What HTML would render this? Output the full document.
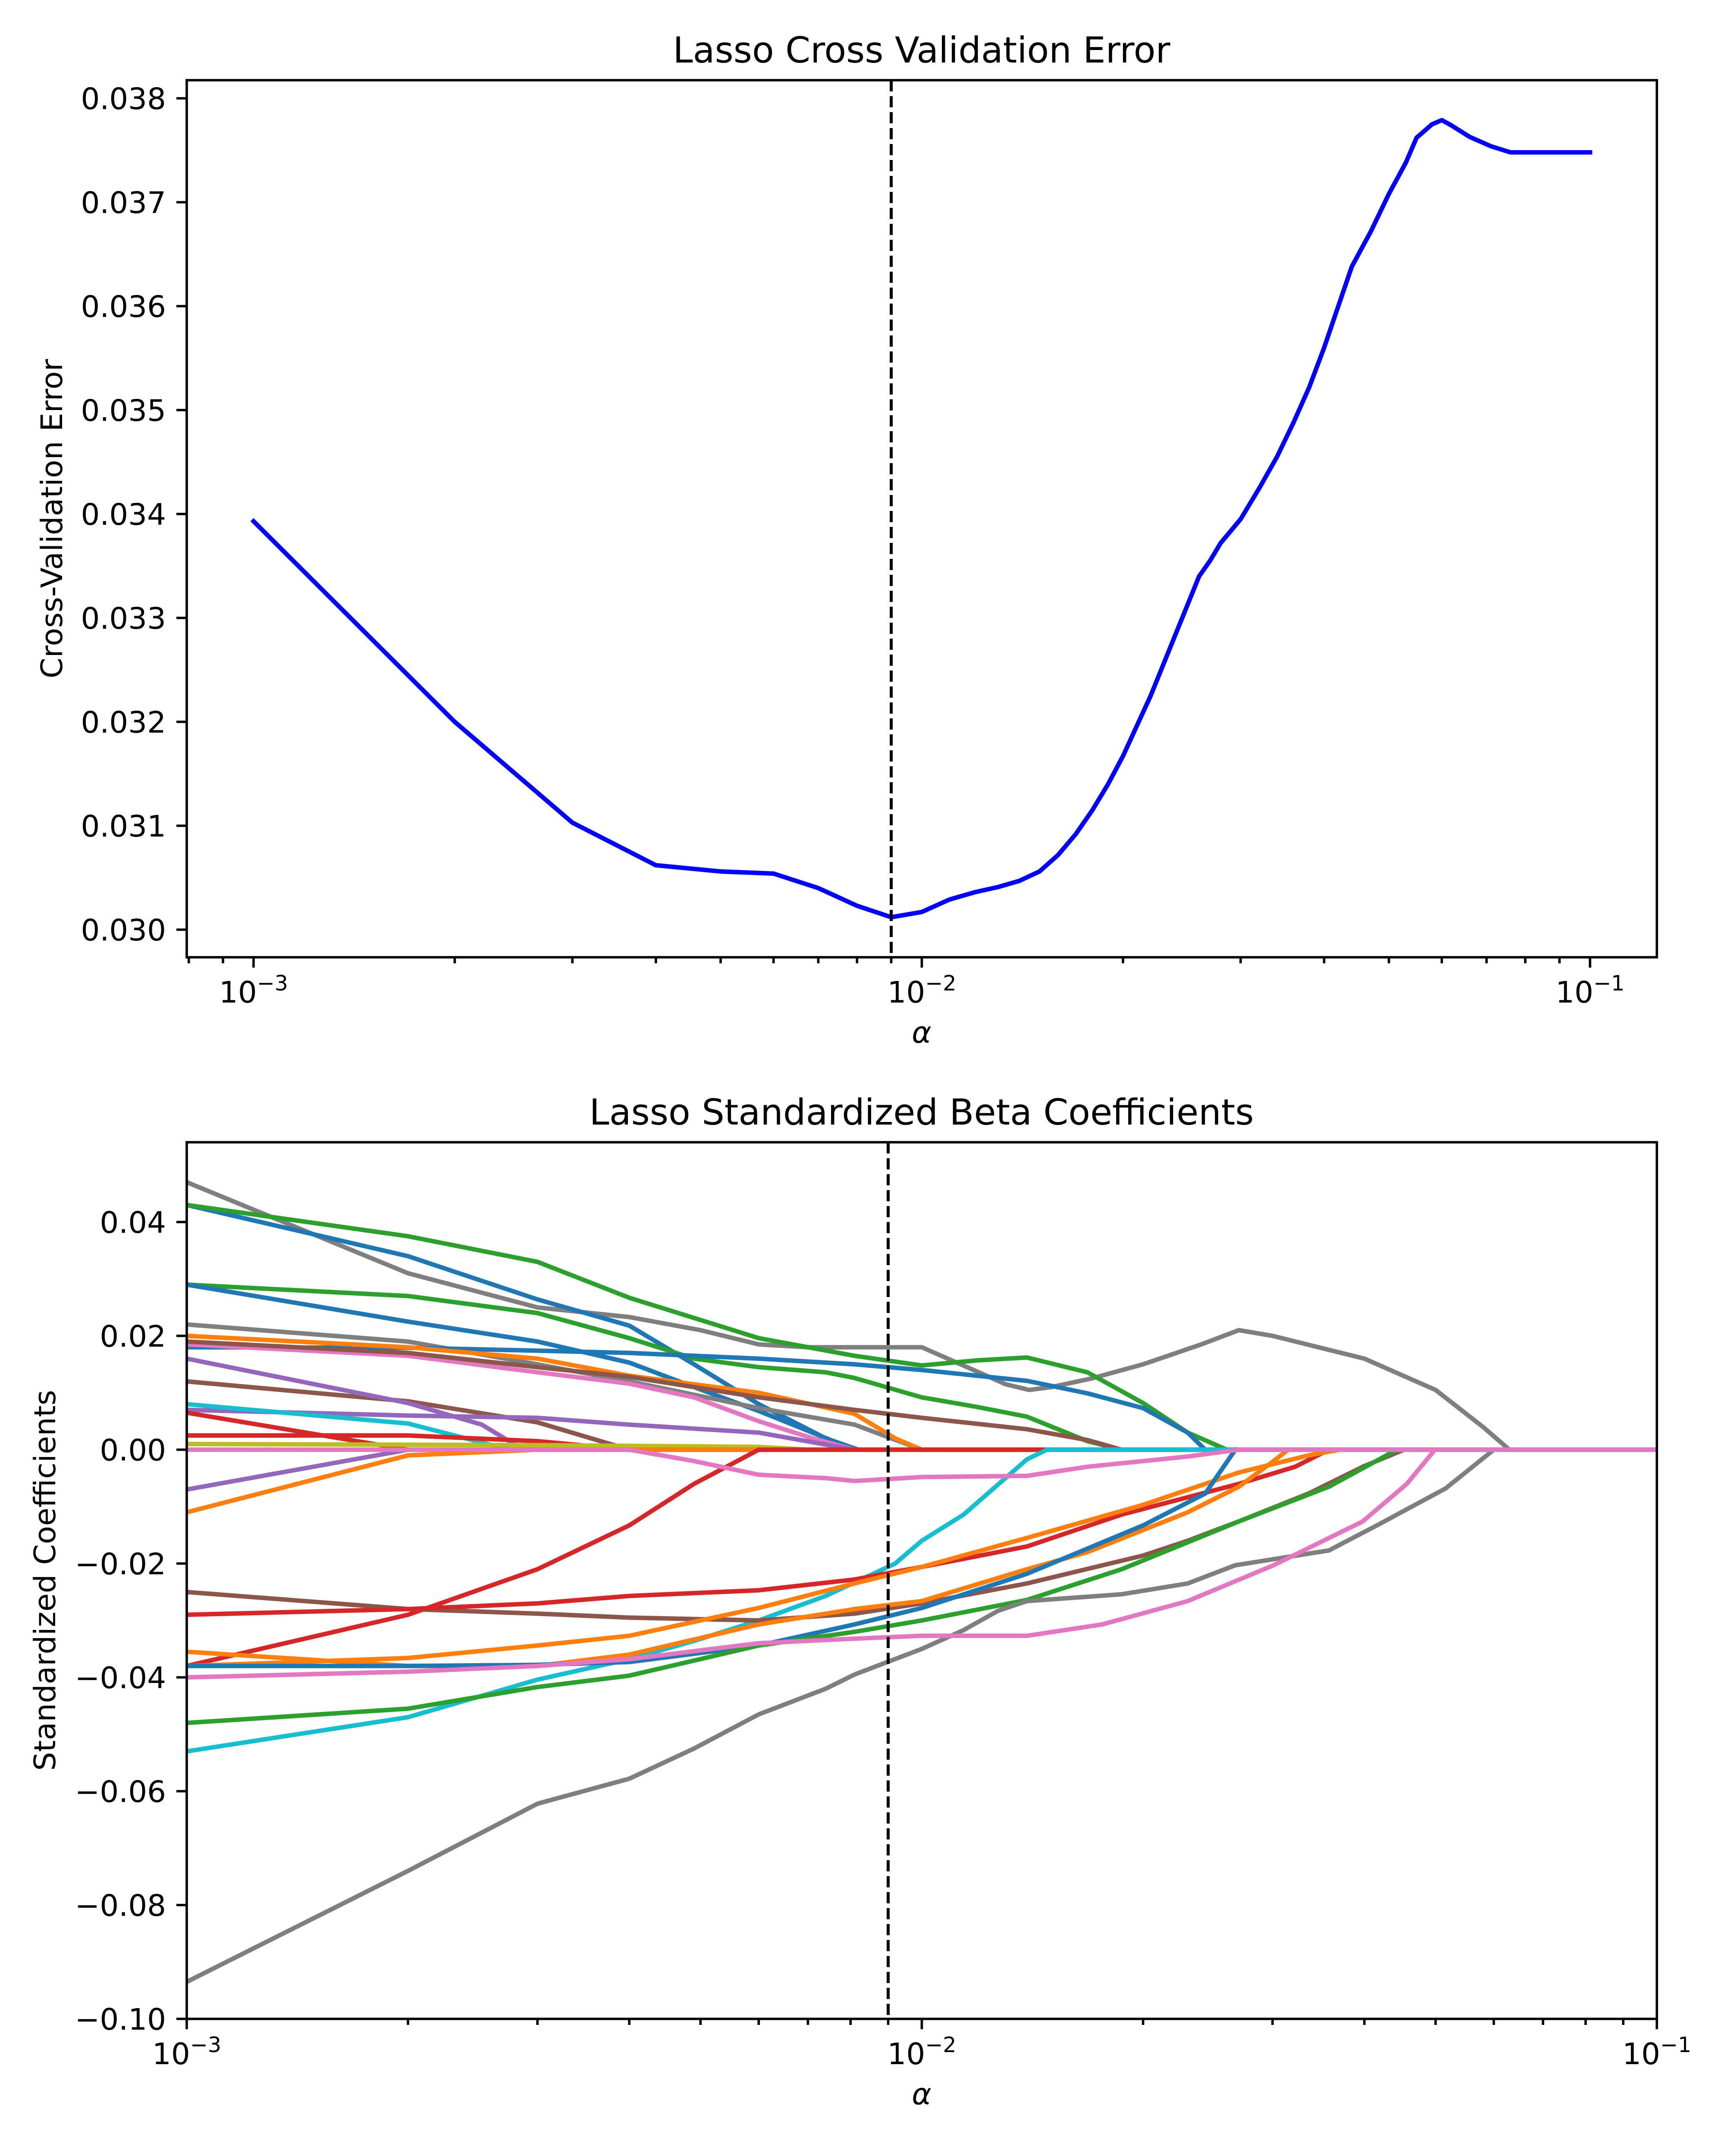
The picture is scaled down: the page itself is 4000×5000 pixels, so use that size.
<!DOCTYPE html>
<html><head><meta charset="utf-8"><style>
html,body{margin:0;padding:0;background:#fff;width:4000px;height:5000px;overflow:hidden;}
svg{display:block;}
svg text{font-family:"DejaVu Sans","Liberation Sans",sans-serif;fill:#000;}
</style></head><body>
<svg id="fig" xmlns="http://www.w3.org/2000/svg" width="4000" height="5000" viewBox="0 0 4000 5000">
<rect width="4000" height="5000" fill="#fff"/>
<defs>
<clipPath id="clipTop"><rect x="433" y="186" width="3409" height="2034"/></clipPath>
<clipPath id="clipBot"><rect x="433" y="2649" width="3409" height="2033"/></clipPath>
</defs>
<g id="top"></g>
<g id="bot"></g>
</svg>
<script>
// ---- Top chart data ----
const cvAlpha = [0.001,0.002,0.003,0.004,0.005,0.006,0.007,0.008,0.009,0.010,0.011,0.012,0.013,0.014,0.015,0.016,0.017,0.018,0.019,0.020,0.022,0.024,0.026,0.027,0.028,0.030,0.032,0.034,0.036,0.038,0.040,0.042,0.044,0.047,0.050,0.053,0.055,0.058,0.060,0.062,0.066,0.071,0.076,0.080,0.1];
const cvError = [0.03393,0.03200,0.03103,0.03062,0.03056,0.03054,0.03040,0.03023,0.03012,0.03017,0.03029,0.03036,0.03041,0.03047,0.03056,0.03072,0.03092,0.03115,0.03140,0.03167,0.03225,0.03285,0.03340,0.03355,0.03372,0.03395,0.03425,0.03455,0.03488,0.03522,0.03560,0.03600,0.03638,0.03672,0.03708,0.03738,0.03762,0.03775,0.03779,0.03774,0.03763,0.03754,0.03748,0.03748,0.03748];
const topYTicks = [0.030,0.031,0.032,0.033,0.034,0.035,0.036,0.037,0.038];
const topYLabels = ["0.030","0.031","0.032","0.033","0.034","0.035","0.036","0.037","0.038"];
const bestAlpha = 0.009;

// ---- Bottom chart data (each series: alphas + coefficients) ----
const botYTicks = [0.04,0.02,0.00,-0.02,-0.04,-0.06,-0.08,-0.10];
const botYLabels = ["0.04","0.02","0.00","\u22120.02","\u22120.04","\u22120.06","\u22120.08","\u22120.10"];
const xTickExp = [-3,-2,-1];
const xTickLabels = ["\u22123","\u22122","\u22121"];

const s1x=[0.001,0.002,0.003,0.004,0.005,0.006,0.007,0.008,0.009,0.010,0.012,0.013,0.014,0.015,0.017,0.020,0.024,0.027,0.030,0.040,0.050,0.058,0.063];
const s1y=[0.047,0.031,0.025,0.0233,0.021,0.0185,0.018,0.018,0.018,0.018,0.0135,0.0115,0.0105,0.011,0.0125,0.015,0.0185,0.021,0.020,0.016,0.0105,0.004,0];
const s2x=[0.001,0.002,0.003,0.004,0.0049,0.006,0.0074,0.0082];
const s2y=[0.043,0.034,0.0264,0.0218,0.015,0.008,0.002,0];
const s3x=[0.001,0.002,0.003,0.004,0.006,0.0081,0.010,0.0119,0.0139,0.0168,0.020,0.023,0.026];
const s3y=[0.043,0.0375,0.033,0.0267,0.0196,0.0165,0.0148,0.0157,0.0162,0.0136,0.0082,0.003,0];
const s4x=[0.001,0.002,0.003,0.004,0.0049,0.006,0.0074,0.0081,0.010,0.0119,0.0139,0.0168,0.0187];
const s4y=[0.029,0.027,0.024,0.0196,0.016,0.0145,0.0136,0.0126,0.0092,0.0075,0.0058,0.0015,0];
const s5x=[0.001,0.002,0.003,0.004,0.0049,0.006,0.0071,0.0081];
const s5y=[0.029,0.0225,0.019,0.0153,0.011,0.0068,0.003,0];
const s6x=[0.001,0.002,0.003,0.004,0.006,0.0081,0.010];
const s6y=[0.022,0.019,0.015,0.012,0.0073,0.0044,0];
const s7x=[0.001,0.002,0.003,0.004,0.006,0.0081,0.010,0.0139,0.0168,0.020,0.023,0.0243];
const s7y=[0.018,0.0179,0.0174,0.017,0.016,0.015,0.014,0.0121,0.0099,0.0073,0.003,0];
const s8x=[0.001,0.002,0.003,0.004,0.006,0.0081,0.0092,0.010];
const s8y=[0.020,0.018,0.016,0.013,0.010,0.0063,0.002,0];
const s9x=[0.001,0.002,0.003,0.004,0.0049,0.006,0.0071,0.0081];
const s9y=[0.0185,0.0165,0.0136,0.0116,0.0092,0.005,0.002,0];
const s10x=[0.001,0.002,0.003,0.004];
const s10y=[0.012,0.0085,0.0048,0];
const s11x=[0.001,0.002,0.003,0.004,0.006,0.0081,0.010,0.0139,0.0168,0.0187];
const s11y=[0.019,0.017,0.0145,0.0128,0.0092,0.007,0.0056,0.0036,0.0017,0];
const s12x=[0.001,0.002,0.00252,0.00287];
const s12y=[0.016,0.0082,0.0044,0];
const s13x=[0.001,0.002,0.003,0.004,0.006,0.0081];
const s13y=[0.007,0.006,0.0056,0.0044,0.003,0];
const s14x=[0.001,0.002,0.00275];
const s14y=[0.008,0.0046,0];
const s15x=[0.001,0.002];
const s15y=[0.0065,0];
const s16x=[0.001,0.002,0.003,0.004];
const s16y=[0.0025,0.0025,0.0015,0];
const s17x=[0.001,0.003,0.006,0.007];
const s17y=[0.001,0.0008,0.0005,0];
const s18x=[0.001,0.002];
const s18y=[-0.007,0];
const s19x=[0.001,0.002,0.003];
const s19y=[-0.011,-0.001,0];
const s21x=[0.001,0.002,0.003,0.004,0.0049,0.006];
const s21y=[-0.038,-0.029,-0.021,-0.0133,-0.006,0];
const s22x=[0.001,0.002,0.003,0.004,0.0049,0.006,0.0074,0.0092,0.010,0.0114,0.0139,0.0148];
const s22y=[-0.053,-0.047,-0.0404,-0.0368,-0.0336,-0.030,-0.0257,-0.020,-0.016,-0.0114,-0.0017,0];
const s23x=[0.001,0.002,0.003,0.004,0.006,0.0081,0.010,0.0139,0.020,0.023,0.027,0.0336,0.0398,0.0453];
const s23y=[-0.025,-0.028,-0.0288,-0.0295,-0.030,-0.0288,-0.027,-0.0235,-0.0186,-0.016,-0.0126,-0.0077,-0.003,0];
const s24x=[0.001,0.002,0.003,0.004,0.006,0.0081,0.010,0.0139,0.0187,0.027,0.0322,0.0358];
const s24y=[-0.029,-0.028,-0.027,-0.0257,-0.0247,-0.0228,-0.0206,-0.017,-0.0114,-0.006,-0.003,0];
const s25x=[0.001,0.002,0.003,0.004,0.006,0.0081,0.010,0.0139,0.0168,0.023,0.027,0.0301,0.0315];
const s25y=[-0.0355,-0.038,-0.038,-0.036,-0.0307,-0.028,-0.0266,-0.021,-0.018,-0.011,-0.0065,-0.002,0];
const s26x=[0.001,0.002,0.003,0.004,0.006,0.0081,0.010,0.0139,0.020,0.027,0.0336,0.037];
const s26y=[-0.038,-0.0366,-0.0344,-0.0327,-0.0278,-0.0235,-0.0206,-0.0155,-0.0097,-0.004,-0.001,0];
const s27x=[0.001,0.002,0.003,0.004,0.006,0.0081,0.010,0.0139,0.020,0.0243,0.0267];
const s27y=[-0.038,-0.038,-0.0378,-0.0373,-0.0344,-0.0307,-0.0278,-0.0218,-0.0133,-0.0077,0];
const s28x=[0.001,0.002,0.003,0.004,0.006,0.0081,0.010,0.0139,0.0187,0.027,0.0358,0.0443];
const s28y=[-0.048,-0.0455,-0.0417,-0.0397,-0.0344,-0.032,-0.030,-0.0264,-0.021,-0.0126,-0.0065,0];
const s30x=[0.001,0.002,0.003,0.004,0.0049,0.006,0.0074,0.0081,0.010,0.0114,0.0127,0.0139,0.0187,0.023,0.0267,0.0358,0.0416,0.0516,0.060];
const s30y=[-0.0935,-0.074,-0.0622,-0.0578,-0.0525,-0.0465,-0.042,-0.0395,-0.035,-0.0317,-0.0283,-0.0266,-0.0254,-0.0235,-0.0203,-0.0177,-0.0133,-0.0068,0];
const s29x=[0.001,0.002,0.003,0.004,0.006,0.0081,0.010,0.0139,0.0176,0.023,0.0301,0.0398,0.0457,0.0499];
const s29y=[-0.040,-0.039,-0.038,-0.0368,-0.034,-0.0332,-0.0327,-0.0327,-0.0307,-0.0266,-0.0203,-0.0126,-0.006,0];
const s20x=[0.001,0.004,0.0049,0.006,0.0074,0.0081,0.010,0.0139,0.0168,0.023,0.027];
const s20y=[0,0,-0.002,-0.0044,-0.005,-0.0055,-0.0048,-0.0046,-0.003,-0.0012,0];

const seriesX=[s1x,s2x,s3x,s4x,s5x,s6x,s7x,s8x,s9x,s10x,s11x,s12x,s13x,s14x,s15x,s16x,s17x,s18x,s19x,s21x,s22x,s23x,s24x,s25x,s26x,s27x,s28x,s30x,s29x,s20x];
const seriesY=[s1y,s2y,s3y,s4y,s5y,s6y,s7y,s8y,s9y,s10y,s11y,s12y,s13y,s14y,s15y,s16y,s17y,s18y,s19y,s21y,s22y,s23y,s24y,s25y,s26y,s27y,s28y,s30y,s29y,s20y];
const seriesColor=["#7f7f7f","#1f77b4","#2ca02c","#2ca02c","#1f77b4","#7f7f7f","#1f77b4","#ff7f0e","#e377c2","#8c564b","#8c564b","#9467bd","#9467bd","#17becf","#d62728","#d62728","#bcbd22","#9467bd","#ff7f0e","#d62728","#17becf","#8c564b","#d62728","#ff7f0e","#ff7f0e","#1f77b4","#2ca02c","#7f7f7f","#e377c2","#e377c2"];

const NS="http://www.w3.org/2000/svg";
function mk(tag, attrs, parent){const e=document.createElementNS(NS,tag);for(const k in attrs)e.setAttribute(k,attrs[k]);parent.appendChild(e);return e;}

// axis functions
const L=433,R=3842;
const topX=a=>L+(Math.log10(a)+3.1)/2.2*(R-L);
const topY=v=>2156-(v-0.030)*241000;
const botX=a=>L+(Math.log10(a)+3)/2*(R-L);
const botY=v=>3362-v/0.02*264;

function axesFrame(g, top, bottom, xf, yf, yt, yl, decStart, decEnd, lo, hi){
  for(let d=decStart; d<=decEnd; d++){
    for(let m=1;m<=9;m++){
      const a=m*Math.pow(10,d); if(a<lo||a>hi) continue;
      const x=xf(a);
      const t=mk('line',{x1:x,x2:x,y1:bottom,y2:bottom+(m===1?24:14),stroke:'#000','stroke-width':5.6},g);
      
      
    }
  }
  xTickExp.forEach((e,i)=>{
    const a=Math.pow(10,e); if(a<lo||a>hi) return;
    const t=mk('text',{x:xf(a),y:bottom+105,'font-size':69,'text-anchor':'middle'},g);
    
    
    t.appendChild(document.createTextNode('10'));
    const sp=mk('tspan',{dy:-28,'font-size':49},t); sp.textContent=xTickLabels[i];
  });
  yt.forEach((v,i)=>{
    const y=yf(v);
    const tk=mk('line',{x1:L-24,x2:L,y1:y,y2:y,stroke:'#000','stroke-width':5.6},g);
    
    
    const t=mk('text',{x:385,y:y+25,'font-size':69,'text-anchor':'end'},g);
    
    
    t.textContent=yl[i];
  });
  const fr=mk('rect',{x:L,y:top,width:R-L,height:bottom-top,fill:'none',stroke:'#000','stroke-width':5.6},g);
  
  
}

function pathFrom(xs,ys,xf,yf){return xs.map((a,i)=>(i?'L':'M')+xf(a).toFixed(1)+','+yf(ys[i]).toFixed(1)).join(' ');}

// ---- Top chart ----
const gt=document.getElementById('top');
const tl=mk('g',{'clip-path':'url(#clipTop)'},gt);
const cv=mk('path',{d:pathFrom(cvAlpha,cvError,topX,topY),fill:'none',stroke:'#0000ff','stroke-width':10.4,'stroke-linejoin':'round','stroke-linecap':'square'},tl);


const vl1=mk('line',{x1:topX(bestAlpha),x2:topX(bestAlpha),y1:186,y2:2220,stroke:'#000','stroke-width':7,'stroke-dasharray':'26,11'},tl);


axesFrame(gt,186,2220,topX,topY,topYTicks,topYLabels,-4,-1,0.000794,0.1259);
let t;
t=mk('text',{x:2137,y:145,'font-size':83,'text-anchor':'middle'},gt);


t.textContent='Lasso Cross Validation Error';
t=mk('text',{x:2137,y:2418,'font-size':69,'text-anchor':'middle','font-style':'italic'},gt);


t.textContent='\u03b1';
t=mk('text',{x:144,y:1203,'font-size':69,'text-anchor':'middle',transform:'rotate(-90 144 1203)'},gt);


t.textContent='Cross-Validation Error';

// ---- Bottom chart ----
const gb=document.getElementById('bot');
const bl=mk('g',{'clip-path':'url(#clipBot)'},gb);
seriesX.forEach((xs,i)=>{
  const xx=xs.concat([0.1]); const yy=seriesY[i].concat([0]);
  const p=mk('path',{d:pathFrom(xx,yy,botX,botY),fill:'none',stroke:seriesColor[i],'stroke-width':10.4,'stroke-linejoin':'round','stroke-linecap':'square'},bl);
  
  
});
const vl2=mk('line',{x1:botX(bestAlpha),x2:botX(bestAlpha),y1:2649,y2:4682,stroke:'#000','stroke-width':7,'stroke-dasharray':'26,11'},bl);


axesFrame(gb,2649,4682,botX,botY,botYTicks,botYLabels,-3,-1,0.001,0.1);
t=mk('text',{x:2137,y:2608,'font-size':83,'text-anchor':'middle'},gb);


t.textContent='Lasso Standardized Beta Coefficients';
t=mk('text',{x:2137,y:4880,'font-size':69,'text-anchor':'middle','font-style':'italic'},gb);


t.textContent='\u03b1';
t=mk('text',{x:128,y:3665,'font-size':69,'text-anchor':'middle',transform:'rotate(-90 128 3665)'},gb);


t.textContent='Standardized Coefficients';
</script>
</body></html>
